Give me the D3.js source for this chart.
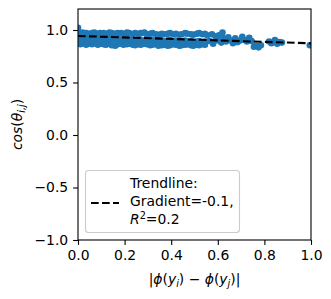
<!DOCTYPE html>
<html>
<head>
<meta charset="utf-8">
<script src="https://cdn.jsdelivr.net/npm/d3@7"></script>
<style>
  body { margin: 0; background: #fff; }
  svg { display: block; font-family: "DejaVu Sans", sans-serif; }
</style>
</head>
<body>
<div id="app"></div>
<script>
// dense band of points (x, upper / middle / lower rows)
const bandX =   [0.00,0.01,0.02,0.035,0.045,0.06,0.07,0.085,0.095,0.11,0.12,0.135,0.145,0.16,0.17,0.185,0.195,0.21,0.22,0.235,0.245,0.26,0.27,0.285,0.295,0.31,0.32,0.335,0.345,0.36,0.37,0.385,0.395,0.41,0.42,0.435,0.445,0.46,0.47,0.485,0.495,0.51,0.52,0.535,0.545];
const bandTop = [0.97,0.96,0.975,0.97,0.965,0.97,0.975,0.965,0.97,0.97,0.965,0.975,0.97,0.965,0.97,0.97,0.965,0.975,0.97,0.96,0.97,0.965,0.97,0.975,0.96,0.965,0.97,0.96,0.955,0.965,0.96,0.965,0.97,0.96,0.965,0.955,0.96,0.97,0.965,0.96,0.955,0.965,0.97,0.96,0.965];
const bandMid = [0.92,0.91,0.925,0.915,0.92,0.905,0.915,0.92,0.91,0.915,0.905,0.915,0.91,0.905,0.92,0.91,0.9,0.915,0.905,0.91,0.9,0.915,0.905,0.9,0.91,0.9,0.905,0.895,0.905,0.9,0.89,0.9,0.905,0.895,0.9,0.89,0.895,0.9,0.89,0.895,0.885,0.89,0.895,0.885,0.89];
const bandLow = [0.87,0.865,0.875,0.86,0.87,0.865,0.875,0.86,0.87,0.865,0.86,0.87,0.855,0.85,0.865,0.87,0.86,0.865,0.87,0.86,0.855,0.865,0.86,0.87,0.865,0.855,0.86,0.865,0.85,0.855,0.86,0.85,0.855,0.865,0.86,0.85,0.855,0.86,0.865,0.855,0.85,0.86,0.855,0.865,0.86];

// sparse points toward the right
const sparseX = [0.0,0.555,0.565,0.575,0.58,0.59,0.6,0.605,0.615,0.62,0.625,0.635,0.645,0.655,0.665,0.675,0.685,0.695,0.705,0.715,0.725,0.735,0.745,0.755,0.765,0.775,0.785,0.82,0.83,0.845,0.855,0.865,0.875,0.995];
const sparseY = [1.02,0.95,0.895,0.96,0.87,0.94,0.9,0.95,0.88,0.975,0.92,0.89,0.93,0.9,0.875,0.92,0.885,0.9,0.935,0.905,0.89,0.925,0.895,0.84,0.85,0.835,0.855,0.89,0.875,0.905,0.87,0.885,0.88,0.855];

// trendline endpoints
const trendX = [0, 1];
const trendY = [0.943, 0.873];

const xTicks = [0, 0.2, 0.4, 0.6, 0.8, 1.0];
const yTicks = [-1.0, -0.5, 0.0, 0.5, 1.0];
const legendLines = ["Trendline:", "Gradient=-0.1,", "R2=0.2"];

const W = 331, H = 299;
const margin = { top: 9, right: 20, bottom: 59, left: 78 };
const FS = 13.9;

const svg = d3.select("#app").append("svg")
  .attr("width", W).attr("height", H);

const x = d3.scaleLinear().domain([0, 1]).range([margin.left, W - margin.right]);
const y = d3.scaleLinear().domain([-1, 1.2]).range([H - margin.bottom, margin.top]);

const pts = [];
bandX.forEach((v, i) => {
  pts.push([v, bandTop[i]], [v, bandMid[i]], [v, bandLow[i]]);
});
sparseX.forEach((v, i) => pts.push([v, sparseY[i]]));

svg.append("defs").append("clipPath").attr("id", "clip")
  .append("rect")
  .attr("x", margin.left).attr("y", margin.top)
  .attr("width", x(1) - x(0)).attr("height", y(-1) - y(1.2));

const plot = svg.append("g").attr("clip-path", "url(#clip)");

plot.selectAll("circle").data(pts).enter().append("circle")
  .attr("cx", d => x(d[0]))
  .attr("cy", d => y(d[1]))
  .attr("r", 3.3)
  .attr("fill", "#1f77b4");

plot.append("line")
  .attr("x1", x(trendX[0])).attr("y1", y(trendY[0]))
  .attr("x2", x(trendX[1])).attr("y2", y(trendY[1]))
  .attr("stroke", "#000").attr("stroke-width", 2.1)
  .attr("stroke-dasharray", "7.7,3.3");

// axes
const xAxis = svg.append("g")
  .attr("transform", `translate(0,${y(-1)})`)
  .call(d3.axisBottom(x).tickValues(xTicks).tickFormat(d3.format(".1f")).tickSize(4.9).tickPadding(4.9));
const yAxis = svg.append("g")
  .attr("transform", `translate(${x(0)},0)`)
  .call(d3.axisLeft(y).tickValues(yTicks).tickFormat(d => d3.format(".1f")(d).replace("-", "\u2212")).tickSize(4.9).tickPadding(4.9));

[xAxis, yAxis].forEach(a => {
  a.select(".domain").remove();
  a.selectAll("text").attr("font-size", FS).attr("fill", "#000")
    .attr("font-family", "DejaVu Sans");
  a.selectAll("line").attr("stroke", "#000").attr("stroke-width", 1.1);
});

svg.append("rect")
  .attr("x", x(0)).attr("y", y(1.2))
  .attr("width", x(1) - x(0)).attr("height", y(-1) - y(1.2))
  .attr("fill", "none").attr("stroke", "#000").attr("stroke-width", 1.1);

// x label
const SUB = FS * 0.7;
const xl = svg.append("text")
  .attr("x", (x(0) + x(1)) / 2).attr("y", 284)
  .attr("text-anchor", "middle").attr("font-size", FS);
xl.append("tspan").text("|");
xl.append("tspan").attr("font-style", "italic").text("\u03d5");
xl.append("tspan").text("(");
xl.append("tspan").attr("font-style", "italic").text("y");
xl.append("tspan").attr("font-style", "italic").attr("font-size", SUB).attr("dy", 3).text("i");
xl.append("tspan").attr("dy", -3).text(") \u2212 ");
xl.append("tspan").attr("font-style", "italic").text("\u03d5");
xl.append("tspan").text("(");
xl.append("tspan").attr("font-style", "italic").text("y");
xl.append("tspan").attr("font-style", "italic").attr("font-size", SUB).attr("dy", 3).text("j");
xl.append("tspan").attr("dy", -3).text(")|");

// y label
const yl = svg.append("text")
  .attr("transform", `translate(22,${(y(-1) + y(1.2)) / 2}) rotate(-90)`)
  .attr("text-anchor", "middle").attr("font-size", FS);
yl.append("tspan").attr("font-style", "italic").text("cos");
yl.append("tspan").text("(");
yl.append("tspan").attr("font-style", "italic").text("\u03b8");
yl.append("tspan").attr("font-style", "italic").attr("font-size", SUB).attr("dy", 3).text("i,j");
yl.append("tspan").attr("dy", -3).text(")");

// legend
const lg = svg.append("g");
lg.append("rect")
  .attr("x", 85.5).attr("y", 170.5).attr("width", 154).attr("height", 62)
  .attr("rx", 3)
  .attr("fill", "#fff").attr("fill-opacity", 0.8)
  .attr("stroke", "#ccc").attr("stroke-width", 1.1);
lg.append("line")
  .attr("x1", 91).attr("x2", 119).attr("y1", 203).attr("y2", 203)
  .attr("stroke", "#000").attr("stroke-width", 2.1).attr("stroke-dasharray", "7.7,3.3");
lg.append("text").attr("x", 130).attr("y", 188).attr("font-size", FS).text(legendLines[0]);
lg.append("text").attr("x", 130).attr("y", 206).attr("font-size", FS).text(legendLines[1]);
const r2 = lg.append("text").attr("x", 130).attr("y", 224).attr("font-size", FS);
r2.append("tspan").attr("font-style", "italic").text("R");
r2.append("tspan").attr("font-size", SUB).attr("dy", -5).text("2");
r2.append("tspan").attr("dy", 5).text("=0.2");
</script>
</body>
</html>
